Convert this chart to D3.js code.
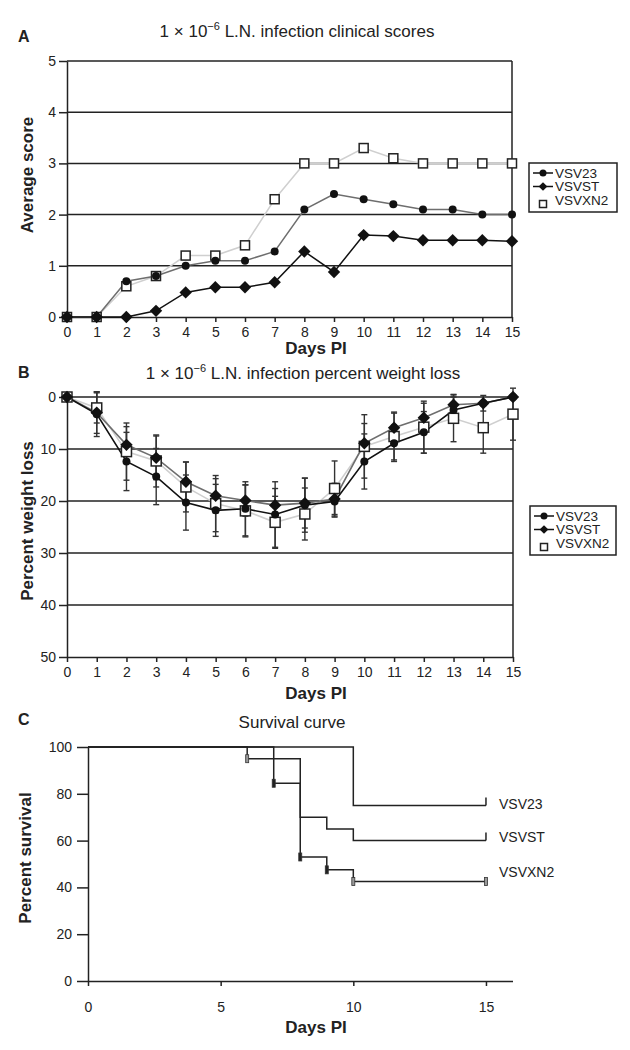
<!DOCTYPE html>
<html>
<head>
<meta charset="utf-8">
<script src="https://cdn.jsdelivr.net/npm/d3@7"></script>
<style>
  body { margin: 0; background: #fff; }
  svg { display: block; font-family: "Liberation Sans", Arial, sans-serif; }
  .tick text { font-size: 14px; fill: #222; }
  .tick line, .domain { stroke: #222; stroke-width: 1.5; }
</style>
</head>
<body>
<svg id="chart" width="630" height="1050"></svg>
<script>
// ---- data ----
const days = [0, 1, 2, 3, 4, 5, 6, 7, 8, 9, 10, 11, 12, 13, 14, 15];
const seriesNames = ["VSV23", "VSVST", "VSVXN2"];

// A: average clinical score
const scoreV23 = [0, 0, 0.7, 0.8, 1.0, 1.1, 1.1, 1.28, 2.1, 2.4, 2.3, 2.2, 2.1, 2.1, 2.0, 2.0];
const scoreVST = [0, 0, 0, 0.12, 0.48, 0.58, 0.58, 0.68, 1.28, 0.88, 1.6, 1.58, 1.5, 1.5, 1.5, 1.48];
const scoreXN2 = [0, 0, 0.6, 0.8, 1.2, 1.2, 1.4, 2.3, 3.0, 3.0, 3.3, 3.1, 3.0, 3.0, 3.0, 3.0];

// B: percent weight loss (mean, sd)
const lossV23 = [0, 3.3, 12.4, 15.3, 20.3, 21.8, 21.5, 22.6, 20.8, 20.1, 12.4, 8.9, 6.8, 2.5, 1.2, 0];
const lossVST = [0, 3.0, 9.2, 11.7, 16.3, 19.0, 19.9, 20.8, 20.4, 19.6, 8.9, 5.9, 4.0, 1.5, 1.2, 0];
const lossXN2 = [0, 2.1, 10.5, 12.3, 17.3, 20.5, 21.9, 24.1, 22.5, 17.6, 9.5, 7.6, 5.8, 4.1, 5.9, 3.3];
const sdV23 = [0, 4.3, 5.6, 5.4, 5.3, 5.0, 5.2, 6.3, 5.2, 3.0, 5.3, 3.5, 4.0, 2.5, 0, 0];
const sdVST = [0, 4.0, 3.5, 4.2, 3.8, 3.3, 3.0, 3.2, 4.8, 3.0, 3.8, 3.0, 2.8, 2.0, 1.5, 0];
const sdXN2 = [0, 2.9, 5.5, 5.0, 4.8, 5.4, 5.0, 5.0, 5.0, 5.3, 6.1, 4.5, 5.0, 4.5, 4.9, 5.0];

// C: survival curves (step after), censor marks
const survDaysV23 = [0, 10, 15];
const survV23 = [100, 75, 75];
const survDaysVST = [0, 7, 8, 9, 10, 15];
const survVST = [100, 95, 70, 65, 60, 60];
const survDaysXN2 = [0, 6, 7, 8, 9, 10, 15];
const survXN2 = [100, 95, 84.5, 53, 47.5, 42.5, 42.5];
const censorDaysXN2 = [6, 7, 8, 9, 10, 15];

const svg = d3.select("#chart");
const ink = "#222";

function zip(xs, ys) { return xs.map((d, i) => [d, ys[i]]); }

function marker(g, shape, x, y, s) {
  if (shape === "circle") {
    g.append("circle").attr("cx", x).attr("cy", y).attr("r", s * 0.5).attr("fill", "#111");
  } else if (shape === "diamond") {
    const r = s * 0.62;
    g.append("path").attr("d", `M${x},${y - r}L${x + r},${y}L${x},${y + r}L${x - r},${y}Z`).attr("fill", "#111");
  } else {
    g.append("rect").attr("x", x - s / 2).attr("y", y - s / 2).attr("width", s).attr("height", s)
      .attr("fill", "#fff").attr("stroke", ink).attr("stroke-width", 1.5);
  }
}

function title(x, y, parts) {
  const t = svg.append("text").attr("x", x).attr("y", y).attr("text-anchor", "middle")
    .attr("font-size", 17).attr("fill", ink);
  if (parts.length === 1) { t.text(parts[0]); return; }
  t.append("tspan").text(parts[0]);
  t.append("tspan").attr("font-size", 11).attr("dy", -7).text(parts[1]);
  t.append("tspan").attr("dy", 7).text(parts[2]);
}

function letter(y, s) {
  svg.append("text").attr("x", 18).attr("y", y).attr("font-size", 16).attr("font-weight", "bold")
    .attr("fill", ink).text(s);
}

function yLabel(x, y, s) {
  svg.append("text").attr("transform", `translate(${x},${y}) rotate(-90)`).attr("text-anchor", "middle")
    .attr("font-size", 17).attr("font-weight", "bold").attr("fill", ink).text(s);
}

function xLabel(y) {
  svg.append("text").attr("x", 316).attr("y", y).attr("text-anchor", "middle")
    .attr("font-size", 17).attr("font-weight", "bold").attr("fill", ink).text("Days PI");
}

function legend(x, y, w, h) {
  const g = svg.append("g");
  g.append("rect").attr("x", x).attr("y", y).attr("width", w).attr("height", h)
    .attr("fill", "#fff").attr("stroke", ink).attr("stroke-width", 1.5);
  const shapes = ["circle", "diamond", "square"];
  seriesNames.forEach((n, i) => {
    const cy = y + 10 + i * 13.5;
    if (i < 2) {
      g.append("line").attr("x1", x + 4).attr("x2", x + 24).attr("y1", cy).attr("y2", cy)
        .attr("stroke", "#111").attr("stroke-width", 1.5);
      marker(g, shapes[i], x + 14, cy, 7);
    } else {
      marker(g, "square", x + 14, cy + 4, 7);
    }
    g.append("text").attr("x", x + 26).attr("y", cy + 4.5).attr("font-size", 13.5).attr("fill", ink).text(n);
  });
}

// ============ Panel A ============
{
  const x = d3.scaleLinear().domain([0, 15]).range([67, 512]);
  const y = d3.scaleLinear().domain([0, 5]).range([317, 61]);
  const g = svg.append("g");
  [1, 2, 3, 4, 5].forEach(v => g.append("line").attr("x1", x(0)).attr("x2", x(15))
    .attr("y1", y(v)).attr("y2", y(v)).attr("stroke", ink).attr("stroke-width", 1.5));
  g.append("line").attr("x1", x(15)).attr("x2", x(15)).attr("y1", y(5)).attr("y2", y(0))
    .attr("stroke", ink).attr("stroke-width", 1.5);
  g.append("g").attr("transform", `translate(0,${y(0)})`)
    .call(d3.axisBottom(x).tickValues(days).tickSize(5).tickPadding(5).tickSizeOuter(0));
  g.append("g").attr("transform", `translate(${x(0)},0)`)
    .call(d3.axisLeft(y).ticks(5).tickSize(8).tickPadding(3).tickSizeOuter(0));

  const line = d3.line().x(d => x(d[0])).y(d => y(d[1]));
  const sets = [
    { v: scoreXN2, c: "#cfcfcf", m: "square", s: 9 },
    { v: scoreV23, c: "#6e6e6e", m: "circle", s: 8 },
    { v: scoreVST, c: "#111", m: "diamond", s: 10 }
  ];
  sets.forEach(s => g.append("path").attr("d", line(zip(days, s.v))).attr("fill", "none")
    .attr("stroke", s.c).attr("stroke-width", 1.5));
  sets.forEach(s => days.forEach((d, i) => marker(g, s.m, x(d), y(s.v[i]), s.s)));

  letter(42, "A");
  title(297, 37, ["1 \u00d7 10", "\u22126", " L.N. infection clinical scores"]);
  yLabel(33, 175, "Average score");
  xLabel(354);
  legend(529, 163, 88, 49);
}

// ============ Panel B ============
{
  const x = d3.scaleLinear().domain([0, 15]).range([67, 513]);
  const y = d3.scaleLinear().domain([0, 50]).range([397, 657]);
  const g = svg.append("g");
  [0, 10, 20, 30, 40].forEach(v => g.append("line").attr("x1", x(0)).attr("x2", x(15))
    .attr("y1", y(v)).attr("y2", y(v)).attr("stroke", ink).attr("stroke-width", 1.5));
  g.append("line").attr("x1", x(15)).attr("x2", x(15)).attr("y1", y(0)).attr("y2", y(50))
    .attr("stroke", ink).attr("stroke-width", 1.5);
  g.append("g").attr("transform", `translate(0,${y(50)})`)
    .call(d3.axisBottom(x).tickValues(days).tickSize(5).tickPadding(5).tickSizeOuter(0));
  g.append("g").attr("transform", `translate(${x(0)},0)`)
    .call(d3.axisLeft(y).tickValues([0, 10, 20, 30, 40, 50]).tickSize(8).tickPadding(3).tickSizeOuter(0));

  const line = d3.line().x(d => x(d[0])).y(d => y(d[1]));
  const sets = [
    { v: lossXN2, sd: sdXN2, c: "#cfcfcf", m: "square", s: 10 },
    { v: lossVST, sd: sdVST, c: "#6e6e6e", m: "diamond", s: 10 },
    { v: lossV23, sd: sdV23, c: "#111", m: "circle", s: 8 }
  ];
  sets.forEach(s => days.forEach((d, i) => {
    if (!s.sd[i]) return;
    const lo = y(s.v[i] - s.sd[i]), hi = y(s.v[i] + s.sd[i]);
    g.append("line").attr("x1", x(d)).attr("x2", x(d)).attr("y1", lo).attr("y2", hi)
      .attr("stroke", "#333").attr("stroke-width", 1.4);
    [lo, hi].forEach(yy => g.append("line").attr("x1", x(d) - 3).attr("x2", x(d) + 3)
      .attr("y1", yy).attr("y2", yy).attr("stroke", "#333").attr("stroke-width", 1.4));
  }));
  sets.forEach(s => g.append("path").attr("d", line(zip(days, s.v))).attr("fill", "none")
    .attr("stroke", s.c).attr("stroke-width", 1.6));
  sets.forEach(s => days.forEach((d, i) => marker(g, s.m, x(d), y(s.v[i]), s.s)));

  letter(378, "B");
  title(303, 379, ["1 \u00d7 10", "\u22126", " L.N. infection percent weight loss"]);
  yLabel(33, 521, "Percent weight loss");
  xLabel(699);
  legend(530, 506, 86, 49);
}

// ============ Panel C ============
{
  const x = d3.scaleLinear().domain([0, 16]).range([88, 512.5]);
  const y = d3.scaleLinear().domain([0, 100]).range([981, 747]);
  const g = svg.append("g");
  g.append("g").attr("transform", `translate(0,${y(0)})`)
    .call(d3.axisBottom(x).tickValues([0, 5, 10, 15]).tickSize(5).tickPadding(16).tickSizeOuter(0));
  g.append("g").attr("transform", `translate(${x(0)},0)`)
    .call(d3.axisLeft(y).tickValues([0, 20, 40, 60, 80, 100]).tickSize(11).tickPadding(5).tickSizeOuter(0));

  const step = d3.line().x(d => x(d[0])).y(d => y(d[1])).curve(d3.curveStepAfter);
  const curves = [
    { t: survDaysV23, v: survV23, name: "VSV23", ly: 804 },
    { t: survDaysVST, v: survVST, name: "VSVST", ly: 837 },
    { t: survDaysXN2, v: survXN2, name: "VSVXN2", ly: 872 }
  ];
  curves.forEach(c => {
    g.append("path").attr("d", step(zip(c.t, c.v))).attr("fill", "none")
      .attr("stroke", ink).attr("stroke-width", 1.5);
    g.append("text").attr("x", 499).attr("y", c.ly + 5).attr("font-size", 14).attr("fill", ink).text(c.name);
  });
  // end-of-study ticks
  [survV23, survVST].forEach(v => {
    const yy = y(v[v.length - 1]);
    g.append("line").attr("x1", x(15)).attr("x2", x(15)).attr("y1", yy - 8).attr("y2", yy)
      .attr("stroke", ink).attr("stroke-width", 1.5);
  });
  // censor marks on VSVXN2
  censorDaysXN2.forEach(d => {
    const i = survDaysXN2.indexOf(d);
    const light = d === 6 || d >= 10;
    g.append("rect").attr("x", x(d) - 1.5).attr("y", y(survXN2[i]) - 4).attr("width", 3).attr("height", 8)
      .attr("fill", light ? "#999" : "#222").attr("stroke", "#333").attr("stroke-width", 0.8);
  });

  letter(725, "C");
  title(292, 728, ["Survival curve"]);
  yLabel(31, 858, "Percent survival");
  xLabel(1033);
}
</script>
</body>
</html>
